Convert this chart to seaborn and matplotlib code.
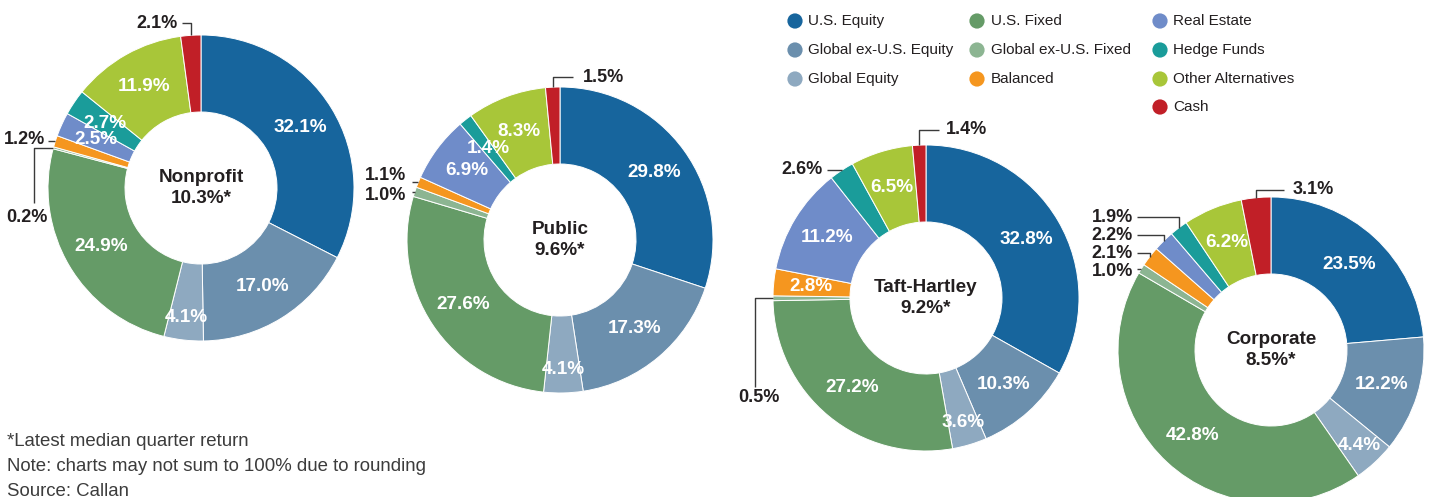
import matplotlib
matplotlib.use("Agg")
import matplotlib.pyplot as plt
import seaborn as sns
import numpy as np

# ---------------- data ----------------
categories = ["U.S. Equity", "Global ex-U.S. Equity", "Global Equity",
              "U.S. Fixed", "Global ex-U.S. Fixed", "Balanced",
              "Real Estate", "Hedge Funds", "Other Alternatives", "Cash"]
plan_names = ["Nonprofit", "Public", "Taft-Hartley", "Corporate"]
median_returns = [10.3, 9.6, 9.2, 8.5]
nonprofit = [32.1, 17.0, 4.1, 24.9, 0.2, 1.2, 2.5, 2.7, 11.9, 2.1]
public = [29.8, 17.3, 4.1, 27.6, 1.0, 1.1, 6.9, 1.4, 8.3, 1.5]
taft_hartley = [32.8, 10.3, 3.6, 27.2, 0.5, 2.8, 11.2, 2.6, 6.5, 1.4]
corporate = [23.5, 12.2, 4.4, 42.8, 1.0, 2.1, 2.2, 1.9, 6.2, 3.1]
footnotes = ["*Latest median quarter return",
             "Note: charts may not sum to 100% due to rounding",
             "Source: Callan"]

# ---------------- style / layout ----------------
colors = ["#17659d", "#6b8fad", "#8ea9c0", "#659b67", "#8cb592",
          "#f5961f", "#6f8cc9", "#1a9c9a", "#a8c639", "#c11f27"]
W, H = 1434, 497
R_OUT, R_IN = 153, 76
centers = [(201, 188), (560, 240), (926, 298), (1271, 350)]
label_r = [116, 116, 130, 116, 116, 116, 116, 116, 116, 116]
# outside labels: idx -> (text x, text y, ha, route, line x / turn x, end y)
outside = [
    {9: (178, 23, "right", "v", 182, None),
     5: (45, 140, "right", "h", 48, None),
     4: (27, 218, "center", "hv", 34, 203)},
    {9: (583, 77, "left", "v", 573, None),
     5: (406, 176, "right", "h", 412, None),
     4: (406, 195, "right", "h", 412, None)},
    {9: (946, 130, "left", "v", 939, None),
     7: (823, 170, "right", "h", 827, None),
     4: (759, 398, "center", "hv", 755, 387)},
    {9: (1293, 190, "left", "v", 1284, None),
     7: (1133, 217, "right", "v", 1137, None),
     6: (1133, 235, "right", "v", 1137, None),
     5: (1133, 253, "right", "v", 1137, None),
     4: (1133, 272, "right", "h", 1137, None)},
]
DARK = "#231f20"
LINE = "#3a3a3a"

sns.set_theme(style="white")
plt.rcParams["font.family"] = ["Liberation Sans", "DejaVu Sans"]

fig = plt.figure(figsize=(W / 100, H / 100), dpi=100)
ax = fig.add_axes([0, 0, 1, 1])


def Y(y):
    return H - y


series = [nonprofit, public, taft_hartley, corporate]
for k, vals in enumerate(series):
    cx, cy = centers[k]
    wedges, _ = ax.pie(vals, colors=colors, startangle=90, counterclock=False,
                       radius=R_OUT, center=(cx, Y(cy)),
                       wedgeprops=dict(width=R_OUT - R_IN, edgecolor="white",
                                       linewidth=0.7))
    for i, w in enumerate(wedges):
        mid = np.deg2rad((w.theta1 + w.theta2) / 2)
        txt = f"{vals[i]:.1f}%"
        if i in outside[k]:
            tx, ty, ha, route, lx, ey = outside[k][i]
            px = cx + R_OUT * np.cos(mid)
            py = Y(cy) + R_OUT * np.sin(mid)
            if route == "v":
                xs, ys = [px, px, lx], [py, Y(ty), Y(ty)]
            elif route == "h":
                xs, ys = [px, lx], [py, py]
            else:
                xs, ys = [px, lx, lx], [py, py, Y(ey)]
            ax.plot(xs, ys, color=LINE, lw=1.0, solid_capstyle="butt")
            ax.text(tx, Y(ty), txt, ha=ha, va="center", fontsize=13,
                    fontweight="bold", color=DARK)
        else:
            r = label_r[i]
            ax.text(cx + r * np.cos(mid), Y(cy) + r * np.sin(mid), txt,
                    ha="center", va="center", fontsize=13.6, fontweight="bold",
                    color="white")
    ax.text(cx, Y(cy), f"{plan_names[k]}\n{median_returns[k]:.1f}%*",
            ha="center", va="center", fontsize=13.6, fontweight="bold",
            color=DARK, linespacing=1.3)

# legend (three columns: 3, 3, 4)
leg_cols = [(795, 808), (977, 991), (1160, 1173)]
leg_rows = [21, 50, 79, 107]
col_items = [[0, 1, 2], [3, 4, 5], [6, 7, 8, 9]]
for c, items in enumerate(col_items):
    mx, tx = leg_cols[c]
    for r, idx in enumerate(items):
        ax.scatter([mx], [Y(leg_rows[r])], s=120, color=colors[idx],
                   edgecolors="none", zorder=5)
        ax.text(tx, Y(leg_rows[r]), categories[idx], ha="left", va="center",
                fontsize=11, color=DARK)

for j, line in enumerate(footnotes):
    ax.text(7, Y(442 + 24.5 * j), line, ha="left", va="center", fontsize=13.4,
            color="#3c3c3c")

ax.set_xlim(0, W)
ax.set_ylim(0, H)
ax.set_aspect("auto")
ax.axis("off")
fig.savefig("out.png", dpi=100)
